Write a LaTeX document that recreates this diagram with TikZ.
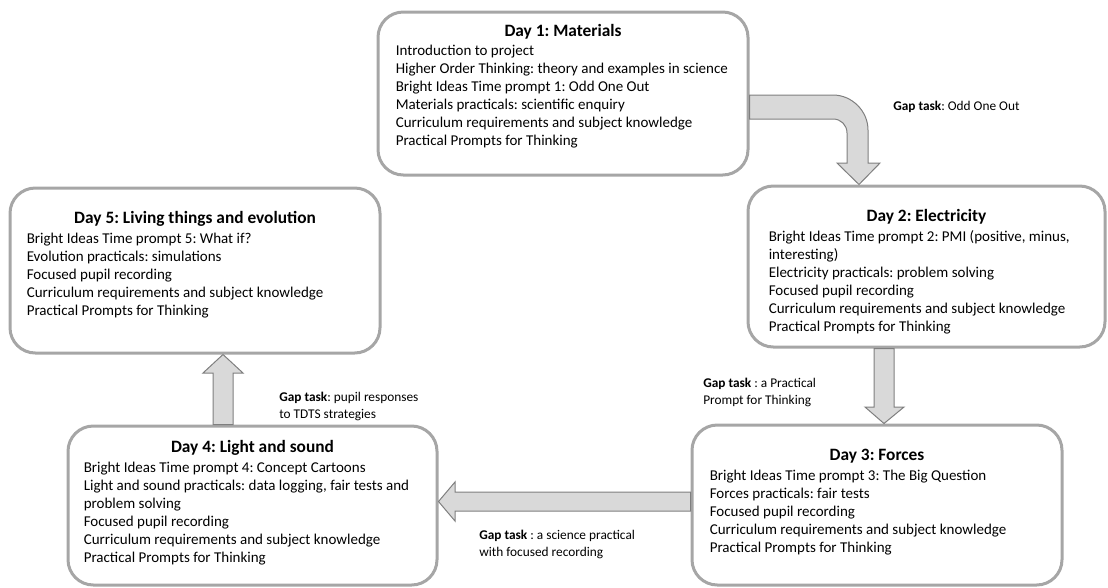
\documentclass[tikz,border=0pt]{standalone}
\usepackage{fontspec}
\setmainfont{Carlito}
\frenchspacing
\usetikzlibrary{positioning}
\definecolor{boxgray}{HTML}{A6A6A6}
\definecolor{arrowfill}{HTML}{D9D9D9}
\definecolor{arrowline}{HTML}{7F7F7F}
\tikzstyle{day} = [rectangle, draw=boxgray, line width=2.25pt, fill=white,
    rounded corners=19pt, inner sep=0pt]
\tikzstyle{daytitle} = [inner sep=0pt, font=\fontsize{13}{15}\selectfont\bfseries]
\tikzstyle{daytext} = [inner sep=0pt, align=left, font=\fontsize{11.25}{13.5}\selectfont]
\tikzstyle{gap} = [inner sep=0pt, anchor=west, align=left, font=\fontsize{10}{12.75}\selectfont]
\tikzstyle{gaparrow} = [draw=arrowline, line width=0.75pt, fill=arrowfill, line join=miter]
\newcommand{\gapt}{\textbf{Gap task}}

\begin{document}
\begin{tikzpicture}[x=0.75pt,y=-0.75pt]
  \useasboundingbox (0,0) rectangle (1108,587);

  \node[day,minimum width=277.5pt,minimum height=122.25pt] (d1) at (563,93.5) {};
  \node[day,minimum width=267.75pt,minimum height=120.75pt] (d2) at (926.5,266.5) {};
  \node[day,minimum width=277.5pt,minimum height=120pt] (d3) at (877,505) {};
  \node[day,minimum width=276.75pt,minimum height=119.25pt] (d4) at (252.5,505.5) {};
  \node[day,minimum width=277.5pt,minimum height=123.75pt] (d5) at (195,270.5) {};

  \node[daytitle] (h1) [below=10.1pt of d1.north] {Day 1: Materials};
  \node[daytitle] (h2) [below=18.4pt of d2.north] {Day 2: Electricity};
  \node[daytitle] (h3) [below=19.1pt of d3.north] {Day 3: Forces};
  \node[daytitle] (h4) [below=11.6pt of d4.north] {Day 4: Light and sound};
  \node[daytitle] (h5) [below=18.4pt of d5.north] {Day 5: Living things and evolution};

  \node[daytext] (t1) [below right=25.8pt and 14.25pt of d1.north west]
    {Introduction to project\\
     Higher Order Thinking: theory and examples in science\\
     Bright Ideas Time prompt 1: Odd One Out\\
     Materials practicals: scientific enquiry\\
     Curriculum requirements and subject knowledge\\
     Practical Prompts for Thinking};
  \node[daytext] (t2) [below right=34.4pt and 16.5pt of d2.north west]
    {Bright Ideas Time prompt 2: PMI (positive, minus,\\
     interesting)\\
     Electricity practicals: problem solving\\
     Focused pupil recording\\
     Curriculum requirements and subject knowledge\\
     Practical Prompts for Thinking};
  \node[daytext] (t3) [below right=34.4pt and 14.25pt of d3.north west]
    {Bright Ideas Time prompt 3: The Big Question\\
     Forces practicals: fair tests\\
     Focused pupil recording\\
     Curriculum requirements and subject knowledge\\
     Practical Prompts for Thinking};
  \node[daytext] (t4) [below right=27.7pt and 12.75pt of d4.north west]
    {Bright Ideas Time prompt 4: Concept Cartoons\\
     Light and sound practicals: data logging, fair tests and\\
     problem solving\\
     Focused pupil recording\\
     Curriculum requirements and subject knowledge\\
     Practical Prompts for Thinking};
  \node[daytext] (t5) [below right=34.4pt and 13.5pt of d5.north west]
    {Bright Ideas Time prompt 5: What if?\\
     Evolution practicals: simulations\\
     Focused pupil recording\\
     Curriculum requirements and subject knowledge\\
     Practical Prompts for Thinking};

  \draw[gaparrow] (d1.east |- 0,95) -- (833,95) .. controls (852,95) and (868,111) .. (868,130)
    -- (868,163) -- (880,163) -- (859,0 |- d2.north) -- (837,163) -- (847,163) -- (847,133)
    .. controls (847,125) and (841,119) .. (833,119) -- (d1.east |- 0,119) -- cycle;
  \draw[gaparrow] (874,0 |- d2.south) -- (874,407) -- (865,407) -- (884,0 |- d3.north)
    -- (904,407) -- (894,407) -- (894,0 |- d2.south) -- cycle;
  \draw[gaparrow] (d3.west |- 0,492) -- (455,492) -- (455,482) -- (d4.east |- 0,501.5)
    -- (455,521) -- (455,511) -- (d3.west |- 0,511) -- cycle;
  \draw[gaparrow] (213,0 |- d4.north) -- (213,373) -- (203,373) -- (223,0 |- d5.south)
    -- (243,373) -- (233,373) -- (233,0 |- d4.north) -- cycle;

  \node[gap] (g1) at (893,107) {\gapt: Odd One Out};
  \node[gap] (g2) at (703,392.5) {\gapt\ : a Practical\\Prompt for Thinking};
  \node[gap] (g3) at (479,544) {\gapt\ : a science practical\\with focused recording};
  \node[gap] (g4) at (279,406.5) {\gapt: pupil responses\\to TDTS strategies};
\end{tikzpicture}
\end{document}
